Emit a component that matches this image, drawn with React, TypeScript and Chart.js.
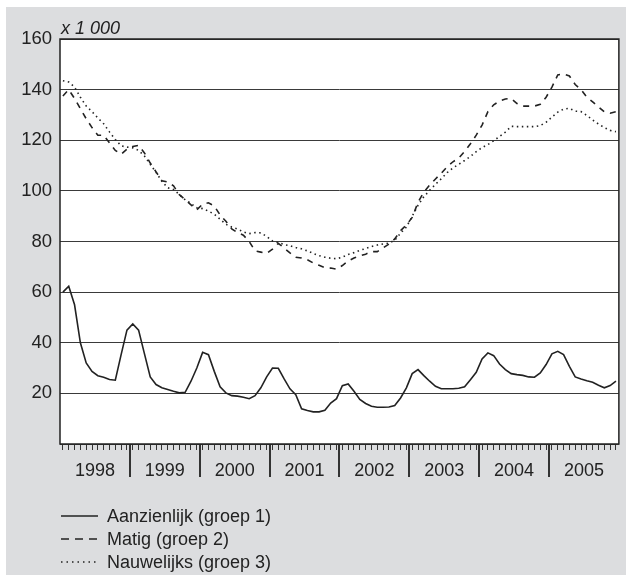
import React, { useEffect, useRef } from 'react';
import { Chart, registerables } from 'chart.js';

Chart.register(...registerables);

const years = ['1998', '1999', '2000', '2001', '2002', '2003', '2004', '2005'];
const monthNames = ['01', '02', '03', '04', '05', '06', '07', '08', '09', '10', '11', '12'];
const months = years.flatMap((y) => monthNames.map((m) => `${y}-${m}`));

const aanzienlijk = [
  60, 62.3, 55, 40, 32, 28.7, 27, 26.4, 25.5, 25.2, 35.3, 45,
  47.4, 45, 35.7, 26.5, 23.5, 22.2, 21.5, 20.8, 20.2, 20.4, 24.8, 30,
  36.2, 35.3, 28.7, 22.6, 20.2, 19.1, 18.9, 18.5, 17.9, 19.1, 22.2, 26.5,
  30, 29.9, 25.7, 21.8, 19.5, 13.9, 13.2, 12.7, 12.7, 13.3, 16.2, 17.9,
  23, 23.7, 20.8, 17.6, 16, 14.9, 14.5, 14.5, 14.6, 15.2, 18.2, 22.2,
  27.8, 29.4, 27, 24.8, 22.8, 21.8, 21.8, 21.8, 22, 22.6, 25.4, 28.3,
  33.6, 36, 34.9, 31.6, 29.4, 27.8, 27.4, 27.1, 26.5, 26.4, 28.1, 31.4,
  35.6, 36.6, 35.3, 30.7, 26.5, 25.7, 25, 24.4, 23.2, 22.2, 23.1, 24.8,
];

const matig = [
  137.5, 140, 136.5, 132.5, 128.5, 125, 122, 122, 119, 116, 114.5, 116.5,
  117.5, 118, 115, 111, 107.5, 104, 103.5, 102, 98.5, 96.5, 94.5, 92.5,
  94.8, 95.3, 94, 90.5, 88, 85, 83.5, 82.5, 80, 76.3, 75.8, 75.3,
  77, 79.3, 77.4, 75.5, 73.8, 73.5, 72.8, 71.5, 70.6, 69.7, 69.5, 69.1,
  70.5, 72.3, 73.5, 74.3, 75, 76, 76, 77.5, 79, 81, 84.3, 86.5,
  89.5, 95.5, 99.5, 102.3, 104.7, 107, 109.5, 111.5, 113, 115.6, 118.6, 122,
  126, 131.3, 134, 135.5, 136.3, 136.5, 134.5, 133.5, 133.5, 133.5, 134.2, 137,
  141, 145.8, 146.2, 145.4, 142, 140, 137, 135.2, 133.2, 131.2, 130.7, 131.3,
];

const nauwelijks = [
  143.5, 143, 141, 137, 133.5, 131.3, 128.8, 126.5, 123.3, 120.3, 117.8, 117.3,
  117, 116, 113.8, 110.5, 107.3, 103.8, 101.2, 100.6, 98.5, 96.5, 95, 93.3,
  93, 92, 90.8, 88.8, 86.8, 85.7, 84.9, 83.8, 83.1, 83.5, 83.4, 82,
  80.2, 79.6, 78.8, 78.3, 77.6, 77.1, 76.3, 75.3, 74.4, 73.8, 73.4, 73.2,
  73.8, 74.9, 75.6, 76.5, 77.2, 78, 78.6, 79, 79.4, 80.5, 83.3, 85.7,
  90, 94.3, 97.7, 100.2, 102.6, 104.8, 107.2, 109.1, 110.5, 112, 113.6, 115.5,
  117.1, 118.3, 119.8, 121.5, 123.2, 125.5, 125.4, 125.4, 125.4, 125.4, 125.8, 127.1,
  129.2, 131.1, 132.3, 132.6, 131.5, 131.3, 129.8, 128, 126.4, 125, 123.9, 123.4,
];

const yTicks = [20, 40, 60, 80, 100, 120, 140, 160];
const unitLabel = 'x 1 000';
const seriesLabels = ['Aanzienlijk (groep 1)', 'Matig (groep 2)', 'Nauwelijks (groep 3)'];

const FONT = "'Liberation Sans', Arial, Helvetica, sans-serif";
const INK = '#222222';
const GRAY = '#dcdddf';

const toPoints = (arr: number[]) => arr.map((v, i) => ({ x: i + 0.5, y: v }));

const framePlugin = {
  id: 'frame',
  beforeDraw(chart: any) {
    const { ctx, chartArea } = chart;
    const { left, top, right, bottom } = chartArea;
    ctx.save();
    ctx.fillStyle = '#ffffff';
    ctx.fillRect(left, top, right - left, bottom - top);
    ctx.restore();
  },
  afterDraw(chart: any) {
    const { ctx, chartArea } = chart;
    const { left, top, right, bottom } = chartArea;
    const xs = chart.scales.x;
    ctx.save();
    // year boundary ticks
    ctx.strokeStyle = '#333333';
    ctx.lineWidth = 2;
    for (let k = 1; k < years.length; k++) {
      const px = Math.round(xs.getPixelForValue(k * 12));
      ctx.beginPath();
      ctx.moveTo(px, bottom);
      ctx.lineTo(px, bottom + 33);
      ctx.stroke();
    }
    // frame
    ctx.strokeStyle = INK;
    ctx.lineWidth = 1.5;
    ctx.strokeRect(left, top, right - left, bottom - top);
    // unit label
    ctx.fillStyle = INK;
    ctx.font = `italic 18px ${FONT}`;
    ctx.textAlign = 'left';
    ctx.textBaseline = 'alphabetic';
    ctx.fillText(unitLabel, left + 1, top - 5);
    ctx.restore();
  },
};

function LegendRow({ top, dash, label }: { top: number; dash?: string; label: string }) {
  return (
    <div style={{ position: 'absolute', left: 55, top, height: 22, width: 400 }}>
      <svg width={38} height={22} style={{ position: 'absolute', left: 0, top: 0 }}>
        <line x1={0} y1={11} x2={37} y2={11} stroke={INK} strokeWidth={1.5} strokeDasharray={dash} />
      </svg>
      <span
        style={{
          position: 'absolute',
          left: 46,
          top: 0,
          lineHeight: '22px',
          fontSize: 18,
          fontFamily: FONT,
          color: INK,
          whiteSpace: 'nowrap',
        }}
      >
        {label}
      </span>
    </div>
  );
}

export default function App() {
  const canvasRef = useRef<HTMLCanvasElement | null>(null);

  useEffect(() => {
    if (!canvasRef.current) return;
    const xTickValues: number[] = [];
    months.forEach((_, i) => xTickValues.push(i + 0.5));
    years.forEach((_, k) => xTickValues.push(k * 12 + 6));
    xTickValues.sort((a, b) => a - b);

    const chart = new Chart(canvasRef.current, {
      type: 'line',
      data: {
        labels: months,
        datasets: [
          {
            label: seriesLabels[0],
            data: toPoints(aanzienlijk),
            borderColor: INK,
            borderWidth: 1.6,
            pointRadius: 0,
            tension: 0,
            fill: false,
          },
          {
            label: seriesLabels[1],
            data: toPoints(matig),
            borderColor: INK,
            borderWidth: 1.6,
            borderDash: [6, 6],
            pointRadius: 0,
            tension: 0,
            fill: false,
          },
          {
            label: seriesLabels[2],
            data: toPoints(nauwelijks),
            borderColor: INK,
            borderWidth: 1.6,
            borderDash: [1.5, 3.5],
            pointRadius: 0,
            tension: 0,
            fill: false,
          },
        ],
      },
      options: {
        animation: false,
        responsive: false,
        maintainAspectRatio: false,
        layout: { padding: { top: 32, left: 0, right: 7, bottom: 91 } },
        plugins: {
          legend: { display: false },
          tooltip: { enabled: false },
        },
        scales: {
          x: {
            type: 'linear',
            min: 0,
            max: 96,
            afterBuildTicks: (scale: any) => {
              scale.ticks = xTickValues.map((v) => ({ value: v }));
            },
            afterFit: (scale: any) => {
              scale.height = 40;
            },
            border: { display: false },
            grid: {
              drawOnChartArea: false,
              drawTicks: true,
              tickLength: 6,
              tickWidth: 1,
              tickColor: (ctx: any) =>
                ctx.tick && Number.isInteger(ctx.tick.value) ? 'rgba(0,0,0,0)' : '#333333',
            },
            ticks: {
              autoSkip: false,
              maxRotation: 0,
              minRotation: 0,
              padding: 10,
              color: INK,
              font: { family: FONT, size: 18 },
              callback: (value: any) => {
                const v = Number(value);
                if (Number.isInteger(v) && (v - 6) % 12 === 0) return years[(v - 6) / 12];
                return '';
              },
            },
          },
          y: {
            min: 0,
            max: 160,
            afterBuildTicks: (scale: any) => {
              scale.ticks = [0, ...yTicks].map((v) => ({ value: v }));
            },
            afterFit: (scale: any) => {
              scale.width = 54;
            },
            border: { display: false },
            grid: {
              color: '#3a3a3a',
              lineWidth: 1,
              drawTicks: false,
            },
            ticks: {
              padding: 8,
              color: INK,
              font: { family: FONT, size: 18.5 },
              callback: (value: any) => (Number(value) === 0 ? '' : String(value)),
            },
          },
        },
      } as any,
      plugins: [framePlugin],
    });
    return () => chart.destroy();
  }, []);

  return (
    <div style={{ position: 'absolute', left: 0, top: 0, width: 626, height: 577, background: '#ffffff' }}>
      <div style={{ position: 'absolute', left: 6, top: 7, width: 620, height: 568, background: GRAY }}>
        <canvas ref={canvasRef} width={620} height={568} style={{ display: 'block', width: 620, height: 568 }} />
        <LegendRow top={498} label={seriesLabels[0]} />
        <LegendRow top={521} dash="8 6" label={seriesLabels[1]} />
        <LegendRow top={544} dash="1.5 4" label={seriesLabels[2]} />
      </div>
    </div>
  );
}
